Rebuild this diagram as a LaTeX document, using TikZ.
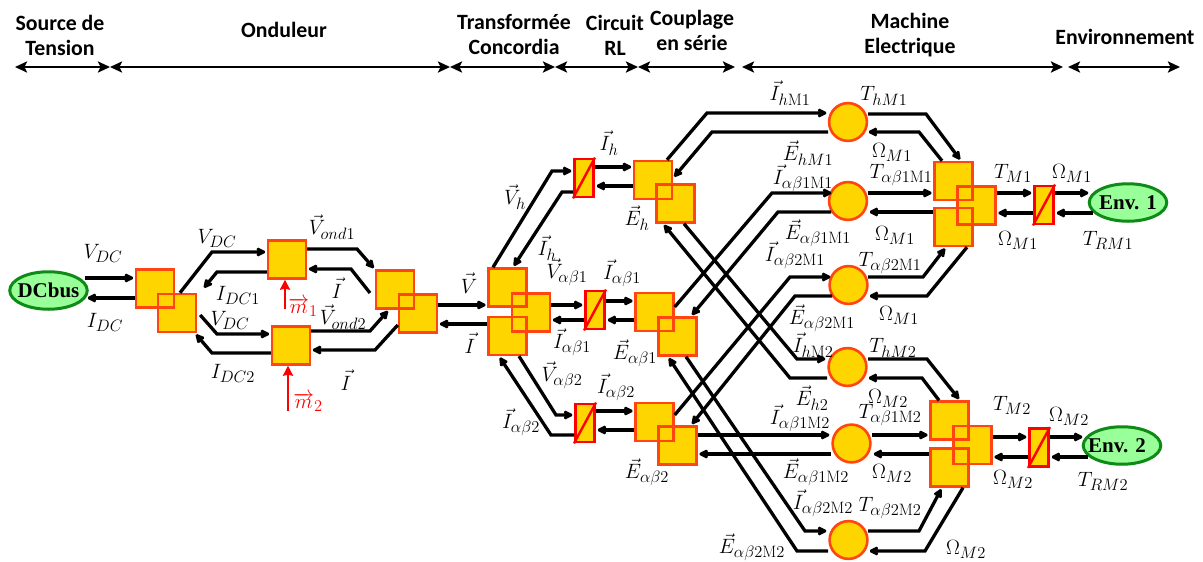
\documentclass[tikz,border=0pt]{standalone}
\usepackage{fix-cm}
\usepackage{fontspec}
\usetikzlibrary{arrows.meta,shapes.geometric}
\DeclareMathSizes{20.74}{20.74}{16.5}{12}
\newfontfamily\headfont{Carlito}
\newfontfamily\envfont{Liberation Serif}
\definecolor{blockfill}{HTML}{FFD500}
\definecolor{blockedge}{HTML}{FF4510}
\definecolor{envfill}{HTML}{99FF99}
\definecolor{envedge}{HTML}{0E8A16}
\tikzset{
  sq/.style={draw=blockedge,fill=blockfill,line width=2.6pt,minimum width=37.8pt,minimum height=37.8pt,inner sep=0pt},
  rnd/.style={circle,draw=blockedge,fill=blockfill,line width=2.6pt,minimum size=37.8pt,inner sep=0pt},
  conv/.style={draw=red,fill=blockfill,line width=2.8pt,minimum width=19.2pt,minimum height=38pt,inner sep=0pt},
  env/.style={ellipse,draw=envedge,fill=envfill,line width=3pt,minimum width=77.5pt,minimum height=37.5pt,inner sep=0pt,font=\envfont\fontsize{21}{23}\selectfont\bfseries},
  conn/.style={line width=3.3pt,-{Stealth[length=11pt,width=11pt,inset=2pt]},miter limit=2},
  ctrl/.style={line width=2.2pt,red,-{Stealth[length=10pt,width=10pt,inset=1pt]}},
  span/.style={line width=2.4pt,{Stealth[length=12pt,width=11pt,inset=2.5pt]}-{Stealth[length=12pt,width=11pt,inset=2.5pt]}},
  lbl/.style={inner sep=0pt,font=\huge},
  head/.style={inner sep=0pt,align=center,font=\headfont\fontsize{21.8}{25}\selectfont\bfseries},
}
\newcommand{\edgeagain}[1]{\draw[draw=blockedge,line width=2.6pt] ([xshift=1.3pt,yshift=-1.3pt]#1.north west) rectangle ([xshift=-1.3pt,yshift=1.3pt]#1.south east);}
\newcommand{\convbar}[1]{\draw[red,line width=2.4pt] (#1.south west) -- (#1.north east);}
\newcommand{\lab}[3]{\node[lbl] (#1) at (#2) {$#3$};}
\newcommand{\rlab}[3]{\node[lbl,text=red] (#1) at (#2) {$#3$};}
\begin{document}
\begin{tikzpicture}[x=1pt,y=-1pt]
\useasboundingbox (0,0) rectangle (1203,562);
% section headers
\node[head] (hSrc) at (60,35) {Source de\\Tension};
\node[head] (hOnd) at (284,30) {Onduleur};
\node[head] (hTra) at (514,35) {Transformée\\Concordia};
\node[head] (hRL) at (615,35) {Circuit\\RL};
\node[head] (hCou) at (692,30) {Couplage\\en série};
\node[head] (hMac) at (910,35) {Machine\\Electrique};
\node[head] (hEnv) at (1125,37) {Environnement};
\coordinate (a0) at (15,67); \coordinate (a1) at (110,67); \coordinate (a2) at (450,67);
\coordinate (a3) at (555,67); \coordinate (a4) at (638,67); \coordinate (a5) at (735,67);
\coordinate (a6) at (742,67); \coordinate (a7) at (1063,67); \coordinate (a8) at (1068,67); \coordinate (a9) at (1180,67);
\draw[span] (a0) -- (a1); \draw[span] (a1) -- (a2); \draw[span] (a2) -- (a3); \draw[span] (a3) -- (a4);
\draw[span] (a4) -- (a5); \draw[span] (a6) -- (a7); \draw[span] (a8) -- (a9);
% blocks
\node[env] (dc) at (48.5,290.5) {\makebox[40pt][c]{DCbus}};
\node[env] (env1) at (1128,202.5) {\makebox[40pt][c]{Env. 1}};
\node[env] (env2) at (1122,445.5) {\makebox[40pt][c]{Env. 2\hspace{10pt}}};
\node[sq] (s1) at (155,288.5) {}; \node[sq] (s2) at (177,313) {}; \edgeagain{s1}
\node[sq] (s3) at (287,259.5) {};
\node[sq] (s4) at (291,345.5) {};
\node[sq] (s5) at (395,289.5) {}; \node[sq] (s6) at (418,313.5) {}; \edgeagain{s5}
\node[sq] (t1) at (507.5,287.5) {}; \node[sq] (t3) at (507.5,336) {}; \node[sq] (t2) at (531,312.5) {}; \edgeagain{t1}\edgeagain{t3}
\node[conv] (c1) at (584,178) {}; \convbar{c1}
\node[conv] (c2) at (595,310) {}; \convbar{c2}
\node[conv] (c3) at (585,423) {}; \convbar{c3}
\node[sq] (p1) at (653,180) {}; \node[sq] (p2) at (675.5,203.5) {}; \edgeagain{p1}
\node[sq] (q1) at (654.5,312) {}; \node[sq] (q2) at (677.5,336.5) {}; \edgeagain{q1}
\node[sq] (r1) at (654.5,422) {}; \node[sq] (r2) at (677.5,445.5) {}; \edgeagain{r1}
\node[rnd] (m1) at (848,122) {};
\node[rnd] (m2) at (848,201) {};
\node[rnd] (m3) at (848.5,285) {};
\node[rnd] (m4) at (847.5,367) {};
\node[rnd] (m5) at (851.5,443.5) {};
\node[rnd] (m6) at (848.5,540) {};
\node[sq] (u1) at (953.5,181) {}; \node[sq] (u3) at (953.5,227) {}; \node[sq] (u2) at (976.5,205.5) {}; \edgeagain{u1}\edgeagain{u3}
\node[sq] (w1) at (949.5,420.5) {}; \node[sq] (w3) at (949.5,467.5) {}; \node[sq] (w2) at (972.5,445) {}; \edgeagain{w1}\edgeagain{w3}
\node[conv] (d1) at (1044,205) {}; \convbar{d1}
\node[conv] (d2) at (1039,447.5) {}; \convbar{d2}
% inverter stage
\draw[conn] (dc.east |- 0,278) ++(-4,0) -- (s1.west |- 0,278);
\draw[conn] (s1.west |- 0,298) -- (86,298);
\draw[conn] (s2.north -| 180,0) -- (212,252) -- (s3.west |- 0,252);
\draw[conn] (s3.west |- 0,272) -- (217,272) -- (203,289);
\draw[conn] (s2.east |- 0,315) ++(3,0) -- (217,334) -- (s4.west |- 0,334);
\draw[conn] (s4.west |- 0,353) -- (212,353) -- (s2.south -| 195,0);
\draw[conn] (s3.east |- 0,249) -- (357,249) -- (s5.north west);
\draw[conn] (370,293) -- (351,269) -- (s3.east |- 0,269);
\draw[conn] (s4.east |- 0,331) -- (370,331) -- (s5.south -| 389,0);
\draw[conn] (s6.west |- 0,325) -- (375,350) -- (s4.east |- 0,350);
\coordinate (mOne) at (285,309); \coordinate (mTwo) at (288,411);
\draw[ctrl] (mOne) -- (s3.south -| 285,0);
\draw[ctrl] (mTwo) -- (s4.south -| 288,0);
\draw[conn] (s6.east |- 0,305) -- (t1.west |- 0,305);
\draw[conn] (t1.west |- 0,324) -- (s6.east |- 0,324);
% Concordia to RL
\draw[conn] (t1.north -| 493,0) -- (552,171) -- (c1.west |- 0,171);
\draw[conn] (c1.west |- 0,192) -- (562,192) -- (t1.north -| 513,0);
\draw[conn] (t2.east |- 0,305) -- (c2.west |- 0,305);
\draw[conn] (c2.west |- 0,320) -- (t2.east |- 0,320);
\draw[conn] (t3.south -| 519,0) -- (556,415) -- (c3.west |- 0,415);
\draw[conn] (c3.west |- 0,435) -- (551,435) -- (t3.south -| 499,0);
\draw[conn] (c1.east |- 0,167) -- (p1.west |- 0,167);
\draw[conn] (p1.west |- 0,186) -- (c1.east |- 0,186);
\draw[conn] (c2.east |- 0,301) -- (q1.west |- 0,301);
\draw[conn] (q1.west |- 0,320) -- (c2.east |- 0,320);
\draw[conn] (c3.east |- 0,411) -- (r1.west |- 0,411);
\draw[conn] (r1.west |- 0,430) -- (c3.east |- 0,430);
% coupling to machines
\draw[conn] (p1.north -| 667,0) -- (707,113) -- (828,113);
\draw[conn] (828,132) -- (712,132) -- (p1.east |- 0,178);
\draw[conn] (q1.east |- 0,307) -- (772,193) -- (833,193);
\draw[conn] (831,212) -- (778,212) -- (q2.north -| 691,0);
\draw[conn] (r1.east |- 0,415) -- (790,277) -- (832,277);
\draw[conn] (832,296) -- (795,296) -- (r2.north -| 691,0);
\draw[conn] (p2.south -| 684,0) -- (797,359) -- (827,359);
\draw[conn] (827,378) -- (790,378) -- (p2.south -| 663,0);
\draw[conn] (r2.east |- 0,435) -- (831,435);
\draw[conn] (831,454) -- (r2.east |- 0,454);
\draw[conn] (q2.south -| 686,0) -- (805,531) -- (828,531);
\draw[conn] (828,551) -- (797,551) -- (q2.south -| 668,0);
% machine 1
\draw[conn] (868,114) -- (926,114) -- (u1.north -| 961,0);
\draw[conn] (u1.north -| 942,0) -- (919,132) -- (867,132);
\draw[conn] (868,193) -- (u1.west |- 0,193);
\draw[conn] (u3.west |- 0,212) -- (868,212);
\draw[conn] (868,277) -- (923,277) -- (u3.south -| 946,0);
\draw[conn] (u3.south -| 967,0) -- (927,296) -- (868,296);
\draw[conn] (u2.east |- 0,193) -- (d1.west |- 0,193);
\draw[conn] (d1.west |- 0,213) -- (u2.east |- 0,213);
\draw[conn] (d1.east |- 0,193) -- (1090,193);
\draw[conn] (1093,213) -- (d1.east |- 0,213);
% machine 2
\draw[conn] (868,359) -- (927,359) -- (w1.north -| 960,0);
\draw[conn] (w1.north -| 939,0) -- (922,378) -- (867,378);
\draw[conn] (872,435) -- (w1.west |- 0,435);
\draw[conn] (w3.west |- 0,454) -- (872,454);
\draw[conn] (868,531) -- (919,531) -- (w3.south -| 942,0);
\draw[conn] (w3.south -| 963,0) -- (925,551) -- (868,551);
\draw[conn] (w2.east |- 0,437) -- (d2.west |- 0,437);
\draw[conn] (d2.west |- 0,457) -- (w2.east |- 0,457);
\draw[conn] (d2.east |- 0,437) -- (1084,437);
\draw[conn] (1088,457) -- (d2.east |- 0,457);
% labels
\lab{l1}{103,253}{V_{DC}}
\lab{l2}{105,322}{I_{DC}}
\lab{l3}{217,238}{V_{DC}}
\lab{l4}{238,295}{I_{DC1}}
\lab{l5}{230,320}{V_{DC}}
\lab{l6}{233,373}{I_{DC2}}
\lab{l7}{332,227}{\vec{V}_{ond1}}
\lab{l8}{337,288}{\vec{I}}
\rlab{l9}{303,307}{\overrightarrow{m}_{1}}
\lab{l10}{343,317}{\vec{V}_{ond2}}
\lab{l11}{346,380}{\vec{I}}
\rlab{l12}{308,402}{\overrightarrow{m}_{2}}
\lab{l13}{469,283}{\vec{V}}
\lab{l14}{470,343}{\vec{I}}
\lab{l15}{515,197}{\vec{V}_{h}}
\lab{l16}{547,248}{\vec{I}_{h}}
\lab{l17}{567,272}{\vec{V}_{\alpha\beta1}}
\lab{l18}{622,273}{\vec{I}_{\alpha\beta1}}
\lab{l19}{609,143}{\vec{I}_{h}}
\lab{l20}{637,218}{\vec{E}_{h}}
\lab{l21}{572,342}{\vec{I}_{\alpha\beta1}}
\lab{l22}{635,353}{\vec{E}_{\alpha\beta1}}
\lab{l23}{562,375}{\vec{V}_{\alpha\beta2}}
\lab{l24}{616,387}{\vec{I}_{\alpha\beta2}}
\lab{l25}{521,422}{\vec{I}_{\alpha\beta2}}
\lab{l26}{647,472}{\vec{E}_{\alpha\beta2}}
\lab{l27}{790,93}{\vec{I}_{h\mathrm{M}1}}
\lab{l28}{808,153}{\vec{E}_{hM1}}
\lab{l29}{803,178}{\vec{I}_{\alpha\beta1\mathrm{M}1}}
\lab{l30}{818,233}{\vec{E}_{\alpha\beta1\mathrm{M}1}}
\lab{l31}{795,255}{\vec{I}_{\alpha\beta2\mathrm{M}1}}
\lab{l32}{822,318}{\vec{E}_{\alpha\beta2\mathrm{M}1}}
\lab{l33}{813,345}{\vec{I}_{h\mathrm{M}2}}
\lab{l34}{812,398}{\vec{E}_{h2}}
\lab{l35}{800,418}{\vec{I}_{\alpha\beta1\mathrm{M}2}}
\lab{l36}{816,472}{\vec{E}_{\alpha\beta1\mathrm{M}2}}
\lab{l37}{823,503}{\vec{I}_{\alpha\beta2\mathrm{M}2}}
\lab{l38}{752,547}{\vec{E}_{\alpha\beta2\mathrm{M}2}}
\lab{l39}{884,96}{T_{hM1}}
\lab{l40}{892,152}{\Omega_{M1}}
\lab{l41}{901,175}{T_{\alpha\beta1\mathrm{M}1}}
\lab{l42}{895,235}{\Omega_{M1}}
\lab{l43}{890,263}{T_{\alpha\beta2\mathrm{M}1}}
\lab{l44}{899,315}{\Omega_{M1}}
\lab{l45}{1013,173}{T_{M1}}
\lab{l46}{1072,173}{\Omega_{M1}}
\lab{l47}{1018,240}{\Omega_{M1}}
\lab{l48}{1108,240}{T_{RM1}}
\lab{l49}{893,348}{T_{hM2}}
\lab{l50}{888,398}{\Omega_{M2}}
\lab{l51}{890,415}{T_{\alpha\beta1\mathrm{M}2}}
\lab{l52}{892,473}{\Omega_{M2}}
\lab{l53}{890,508}{T_{\alpha\beta2\mathrm{M}2}}
\lab{l54}{966,549}{\Omega_{M2}}
\lab{l55}{1012,405}{T_{M2}}
\lab{l56}{1069,416}{\Omega_{M2}}
\lab{l57}{1013,479}{\Omega_{M2}}
\lab{l58}{1103,481}{T_{RM2}}
\end{tikzpicture}
\end{document}
